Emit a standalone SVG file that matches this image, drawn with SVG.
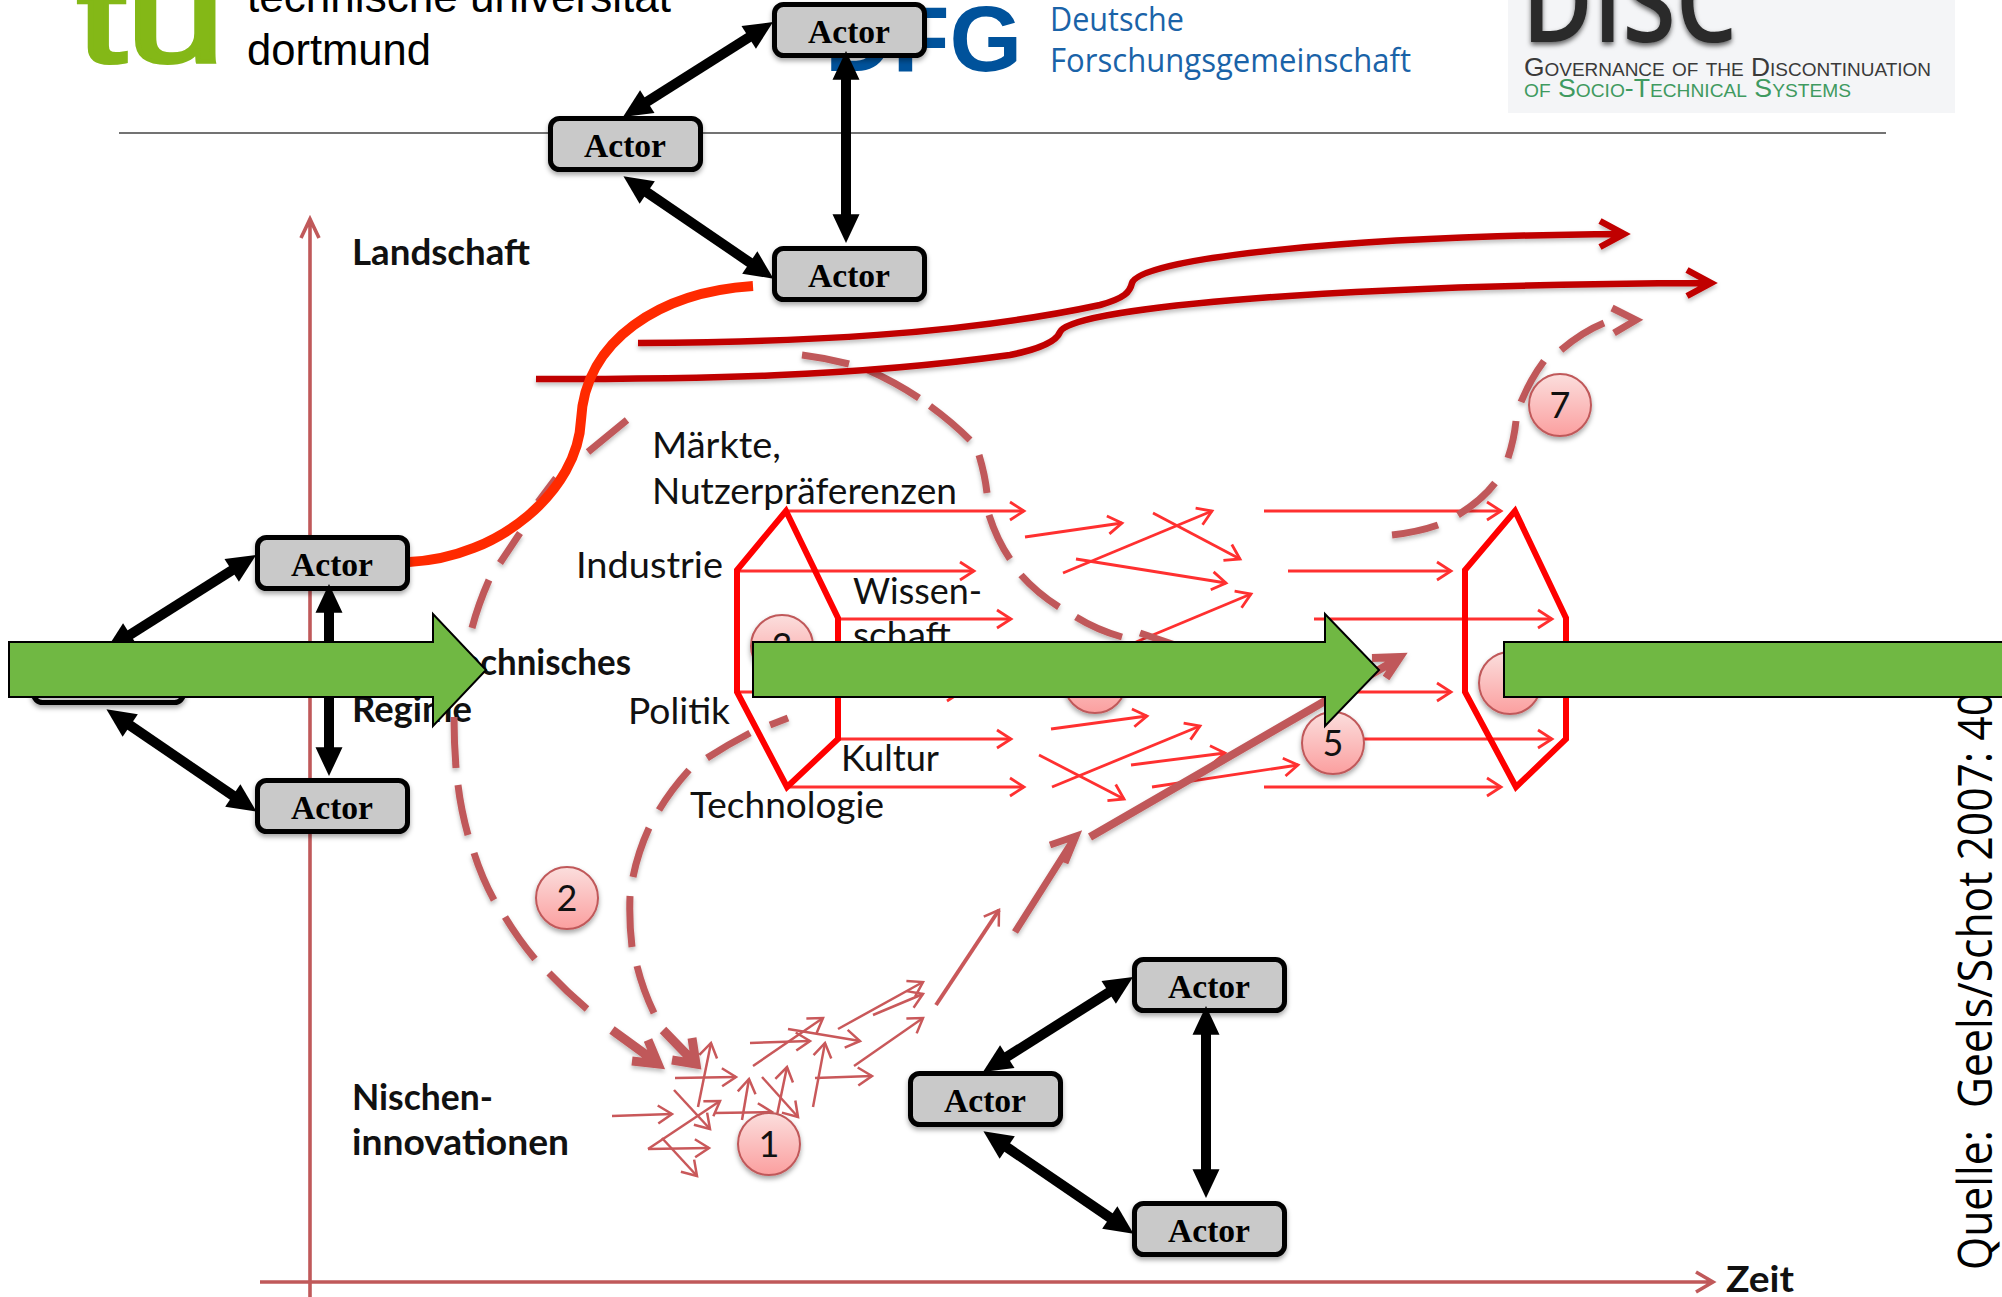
<svg xmlns="http://www.w3.org/2000/svg" width="2002" height="1297" viewBox="0 0 2002 1297">
<style>
.actor rect{fill:#c9c9c9;stroke:#000;stroke-width:5;filter:url(#sh)}
.actor text{font:bold 34px "Liberation Serif",serif;text-anchor:middle;fill:#000}
.bk{stroke:#000;stroke-width:10;fill:none;marker-start:url(#bh);marker-end:url(#bh)}
.tr{stroke:#ff3030;stroke-width:2.8;fill:none;marker-end:url(#mr)}
.tp{stroke:#c9585a;stroke-width:2.5;fill:none;marker-end:url(#mp)}
.ds{stroke:#c0595a;stroke-width:7;fill:none}
.dr{stroke:#c00000;stroke-width:6.5;fill:none}
.lb{font:bold 36px Lato,"Liberation Sans",sans-serif;fill:#111}
.lr{font:36px Lato,"Liberation Sans",sans-serif;fill:#111}
.num circle{fill:url(#pk);stroke:#c0595a;stroke-width:2;filter:url(#sh)}
.num text{font:36px Lato,"Liberation Sans",sans-serif;text-anchor:middle;fill:#111}
.gr{fill:#70b843;stroke:#000;stroke-width:2}
</style>
<defs>
<filter id="sh" x="-20%" y="-20%" width="140%" height="150%"><feDropShadow dx="0" dy="3" stdDeviation="2.5" flood-opacity="0.35"/></filter>
<filter id="sh2" x="-10%" y="-10%" width="120%" height="130%"><feDropShadow dx="0" dy="3" stdDeviation="2" flood-opacity="0.25"/></filter>
<filter id="sh3" x="-10%" y="-10%" width="120%" height="140%"><feDropShadow dx="0" dy="3" stdDeviation="2.5" flood-opacity="0.6"/></filter>
<linearGradient id="pk" x1="0" y1="0" x2="0" y2="1"><stop offset="0" stop-color="#fbdedd"/><stop offset="1" stop-color="#fb9f9f"/></linearGradient>
<marker id="bh" viewBox="0 0 3.2 3" markerWidth="2.9" markerHeight="2.7" refX="0.3" refY="1.5" orient="auto-start-reverse" overflow="visible"><path d="M0,0L3.2,1.5L0,3z" fill="#000"/></marker>
<marker id="mr" markerUnits="userSpaceOnUse" markerWidth="18" markerHeight="20" refX="15" refY="10" orient="auto" overflow="visible"><path d="M1,1L15,10L1,19" fill="none" stroke="#ff3030" stroke-width="2.8"/></marker>
<marker id="mp" markerUnits="userSpaceOnUse" markerWidth="18" markerHeight="20" refX="15" refY="10" orient="auto" overflow="visible"><path d="M1,1L15,10L1,19" fill="none" stroke="#c9585a" stroke-width="2.5"/></marker>
</defs>
<rect width="2002" height="1297" fill="#fff"/>

<g id="logos">
<text x="77" y="62" font-family="Liberation Sans,sans-serif" font-size="128" fill="#84b817" stroke="#84b817" stroke-width="4" textLength="148" lengthAdjust="spacingAndGlyphs">tu</text>
<text x="247" y="12" font-family="Liberation Sans,sans-serif" font-size="44" fill="#000" textLength="424" lengthAdjust="spacingAndGlyphs">technische universität</text>
<text x="247" y="65" font-family="Liberation Sans,sans-serif" font-size="44" fill="#000" textLength="184" lengthAdjust="spacingAndGlyphs">dortmund</text>
<text x="825" y="71" font-family="Liberation Sans,sans-serif" font-weight="bold" font-size="92" fill="#00529b" textLength="197" lengthAdjust="spacingAndGlyphs">DFG</text>
<text x="1050" y="31" font-family="Open Sans,sans-serif" font-size="33" fill="#1a63a8" textLength="134" lengthAdjust="spacingAndGlyphs">Deutsche</text>
<text x="1050" y="72" font-family="Open Sans,sans-serif" font-size="33" fill="#1a63a8" textLength="361" lengthAdjust="spacingAndGlyphs">Forschungsgemeinschaft</text>
<rect x="1508" y="0" width="447" height="113" fill="#f4f5f7"/>
<text x="1522" y="42" font-family="Open Sans,sans-serif" font-weight="600" font-size="112" fill="#2a2a2a" textLength="215" lengthAdjust="spacingAndGlyphs" filter="url(#sh3)">DISC</text>
<text x="1524" y="76" font-family="Liberation Sans,sans-serif" font-size="25" fill="#3a3a3a" style="font-variant:small-caps" textLength="407" lengthAdjust="spacingAndGlyphs">Governance of the Discontinuation</text>
<text x="1524" y="97" font-family="Liberation Sans,sans-serif" font-size="25" fill="#3f9a60" style="font-variant:small-caps" textLength="327" lengthAdjust="spacingAndGlyphs">of Socio-Technical Systems</text>
</g>
<path d="M119,133H1886" stroke="#444" stroke-width="1.6" fill="none"/>

<g id="axes" fill="none" stroke="#c0595a" stroke-width="3.6">
<path d="M310,1297V220M301,238L310,219L319,238"/>
<path d="M260,1282H1712M1696,1272L1713,1282L1696,1292"/>
</g>

<g id="labels">
<text class="lb" x="352" y="265" textLength="178" lengthAdjust="spacingAndGlyphs">Landschaft</text>
<text class="lb" x="352" y="675" textLength="279" lengthAdjust="spacingAndGlyphs">Sozio-technisches</text>
<text class="lb" x="352" y="722" textLength="120" lengthAdjust="spacingAndGlyphs">Regime</text>
<text class="lb" x="352" y="1110" textLength="141" lengthAdjust="spacingAndGlyphs">Nischen-</text>
<text class="lb" x="352" y="1155" textLength="217" lengthAdjust="spacingAndGlyphs">innovationen</text>
<text class="lb" x="1726" y="1292" textLength="68" lengthAdjust="spacingAndGlyphs">Zeit</text>
<text class="lr" x="652" y="458" textLength="129" lengthAdjust="spacingAndGlyphs">Märkte,</text>
<text class="lr" x="652" y="504" textLength="305" lengthAdjust="spacingAndGlyphs">Nutzerpräferenzen</text>
<text class="lr" x="576" y="578" textLength="147" lengthAdjust="spacingAndGlyphs">Industrie</text>
<text class="lr" x="628" y="724" textLength="102" lengthAdjust="spacingAndGlyphs">Politik</text>
<text class="lr" x="690" y="818" textLength="194" lengthAdjust="spacingAndGlyphs">Technologie</text>
<text class="lr" x="841" y="771" textLength="98" lengthAdjust="spacingAndGlyphs">Kultur</text>
<text class="lr" x="853" y="604" textLength="129" lengthAdjust="spacingAndGlyphs">Wissen-</text>
<text class="lr" x="853" y="648" textLength="98" lengthAdjust="spacingAndGlyphs">schaft</text>
</g>

<g id="connectors">
<g id="red-thin">
<path class="tr" d="M786,511H1024"/><path class="tr" d="M737,571H974"/><path class="tr" d="M838,619H1011"/><path class="tr" d="M737,692H961"/><path class="tr" d="M838,739H1011"/><path class="tr" d="M787,787H1024"/>
<path class="tr" d="M1025,537L1122,523"/><path class="tr" d="M1063,573L1212,511"/><path class="tr" d="M1153,513L1240,559"/><path class="tr" d="M1076,559L1226,583"/><path class="tr" d="M1136,642L1251,594"/><path class="tr" d="M1051,729L1147,716"/><path class="tr" d="M1039,755L1124,799"/><path class="tr" d="M1052,787L1200,726"/><path class="tr" d="M1131,765L1225,753"/><path class="tr" d="M1152,787L1298,765"/>
<path class="tr" d="M1264,511H1501"/><path class="tr" d="M1288,571H1451"/><path class="tr" d="M1314,619H1552"/><path class="tr" d="M1349,692H1451"/><path class="tr" d="M1363,739H1552"/><path class="tr" d="M1264,787H1501"/>
</g>
<g id="pink-thin">
<path class="tp" d="M612,1116L672,1114"/><path class="tp" d="M675,1078L736,1077"/><path class="tp" d="M698,1107L711,1043"/><path class="tp" d="M674,1090L710,1129"/><path class="tp" d="M648,1149L720,1101"/><path class="tp" d="M648,1149L709,1148"/><path class="tp" d="M662,1138L697,1176"/><path class="tp" d="M714,1113L772,1112"/><path class="tp" d="M742,1120L749,1079"/><path class="tp" d="M762,1077L798,1117"/><path class="tp" d="M777,1115L787,1067"/><path class="tp" d="M750,1043L810,1041"/><path class="tp" d="M753,1066L823,1018"/><path class="tp" d="M788,1029L860,1041"/><path class="tp" d="M813,1107L825,1043"/><path class="tp" d="M815,1078L872,1076"/><path class="tp" d="M838,1029L923,982"/><path class="tp" d="M873,1015L923,994"/><path class="tp" d="M854,1066L923,1018"/>
<path class="tp" style="stroke-width:4" d="M936,1005L999,910"/>
</g>
<g id="hexagons" fill="none" stroke="#ff0000" stroke-width="6">
<path d="M786,511L737,570V692L787,787L838,739V618Z"/>
<path d="M1515,511L1465,570V692L1516,787L1566,739V618Z"/>
</g>
<g id="dashed" filter="url(#sh2)">
<path class="ds" d="M802,355Q826,358 849,364M868,370Q895,382 919,398M930,406Q952,422 970,440M979,455Q985,475 987,493M989,515Q997,540 1010,559M1021,575Q1037,593 1059,607M1076,617Q1097,630 1122,637"/>
<path class="ds" d="M1140,633L1175,645L1150,665"/>
<path class="ds" d="M627,420L588,452M556,478L538,502M520,533L500,563M489,580Q478,605 472,628M454,717Q454,742 456,768M458,785Q461,810 468,835M474,853Q482,878 494,900M505,917Q519,940 535,959M549,973Q567,992 587,1009"/>
<path class="ds" d="M788,718L770,725M750,733Q727,745 707,758M689,770Q671,790 659,810M649,828Q638,852 633,877M630,896Q629,922 632,947M637,966Q643,990 654,1013"/>
<path class="ds" style="stroke-width:9" d="M612,1030L656,1062M648,1040L658,1064L632,1061M663,1030L694,1062M692,1038L696,1064L672,1060"/>
<path class="ds" d="M1015,932L1072,842M1050,845L1076,836L1065,863"/>
<path class="ds" style="stroke-width:8" d="M1090,837L1396,660M1372,658L1400,657L1386,678"/>
<path class="ds" d="M1392,535Q1418,532 1438,525M1458,515Q1482,500 1495,483M1508,458Q1514,440 1516,421M1521,402Q1530,380 1544,361M1561,350Q1582,332 1604,323M1612,308L1636,320L1614,333"/>
</g>
<g id="landscape" filter="url(#sh2)">
<path class="dr" d="M638,343C800,342 960,335 1100,305C1125,298 1130,292 1132,283C1140,258 1350,236 1622,234M1600,221L1624,234L1600,247"/>
<path class="dr" d="M536,379C700,379 850,377 1010,355C1045,348 1057,340 1060,332C1068,310 1300,285 1709,283M1687,270L1711,283L1687,296"/>
</g>
<path id="link-red" d="M753,286C660,292 585,340 581,420C578,490 500,558 409,562" fill="none" stroke="#ff2a00" stroke-width="10"/>
</g>

<g id="num-1" class="num"><circle cx="769" cy="1144" r="31"/><text x="769" y="1157">1</text></g>
<g id="num-2" class="num"><circle cx="567" cy="898" r="31"/><text x="567" y="911">2</text></g>
<g id="num-3" class="num"><circle cx="782" cy="646" r="31"/><text x="782" y="659">3</text></g>
<g id="num-4" class="num"><circle cx="1095" cy="682" r="31"/></g>
<g id="num-5" class="num"><circle cx="1333" cy="743" r="31"/><text x="1333" y="756">5</text></g>
<g id="num-6" class="num"><circle cx="1510" cy="683" r="31"/></g>
<g id="num-7" class="num"><circle cx="1560" cy="405" r="31"/><text x="1560" y="418">7</text></g>

<g id="actor-t1" class="actor"><rect x="774.500" y="4.500" width="150" height="51" rx="9"/><text x="849" y="43" textLength="82" lengthAdjust="spacingAndGlyphs">Actor</text></g>
<g id="actor-t2" class="actor"><rect x="550.500" y="118.500" width="150" height="51" rx="9"/><text x="625" y="157" textLength="82" lengthAdjust="spacingAndGlyphs">Actor</text></g>
<g id="actor-t3" class="actor"><rect x="774.500" y="248.500" width="150" height="51" rx="9"/><text x="849" y="287" textLength="82" lengthAdjust="spacingAndGlyphs">Actor</text></g>
<g id="actor-l1" class="actor"><rect x="257.500" y="537.500" width="150" height="51" rx="9"/><text x="332" y="576" textLength="82" lengthAdjust="spacingAndGlyphs">Actor</text></g>
<g id="actor-l2" class="actor"><rect x="33.500" y="651.500" width="150" height="51" rx="9"/><text x="108" y="690" textLength="82" lengthAdjust="spacingAndGlyphs">Actor</text></g>
<g id="actor-l3" class="actor"><rect x="257.500" y="780.500" width="150" height="51" rx="9"/><text x="332" y="819" textLength="82" lengthAdjust="spacingAndGlyphs">Actor</text></g>
<g id="actor-b1" class="actor"><rect x="1134.500" y="959.500" width="150" height="51" rx="9"/><text x="1209" y="998" textLength="82" lengthAdjust="spacingAndGlyphs">Actor</text></g>
<g id="actor-b2" class="actor"><rect x="910.500" y="1073.500" width="150" height="51" rx="9"/><text x="985" y="1112" textLength="82" lengthAdjust="spacingAndGlyphs">Actor</text></g>
<g id="actor-b3" class="actor"><rect x="1134.500" y="1203.500" width="150" height="51" rx="9"/><text x="1209" y="1242" textLength="82" lengthAdjust="spacingAndGlyphs">Actor</text></g>

<g id="actor-links">
<path class="bk" d="M645,103L751,36"/><path class="bk" d="M645,191L752,264"/><path class="bk" d="M846,77V217"/>
<path class="bk" d="M128,636L234,569"/><path class="bk" d="M128,724L235,797"/><path class="bk" d="M329,610V750"/>
<path class="bk" d="M1005,1058L1111,991"/><path class="bk" d="M1005,1146L1112,1219"/><path class="bk" d="M1206,1032V1172"/>
</g>

<g id="source"><text transform="translate(1992,1270) rotate(-90)" font-family="Open Sans,sans-serif" font-size="48" fill="#000" style="white-space:pre" textLength="578" lengthAdjust="spacingAndGlyphs">Quelle:  Geels/Schot 2007: 40</text></g>

<g id="arrow-1"><path class="gr" d="M9,642H433V614L486,670L433,726V697H9Z"/></g>
<g id="arrow-2"><path class="gr" d="M753,642H1325V614L1379,670L1325,726V697H753Z"/></g>
<g id="arrow-3"><path class="gr" d="M1504,642H2010V697H1504Z"/></g>
</svg>
